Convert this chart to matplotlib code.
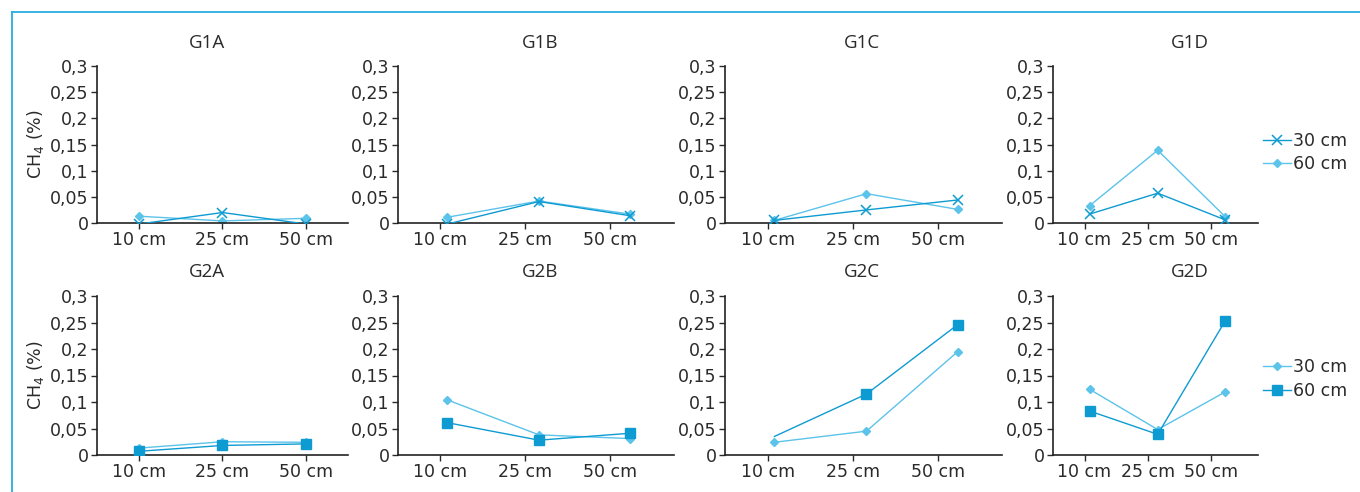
import matplotlib.pyplot as plt
import numpy as np

plt.rcParams['font.family'] = ['DejaVu Sans']

cats = ['10 cm', '25 cm', '50 cm']
dark = '#0e9bd2'
light = '#5cc3ea'
border = '#29abe2'

# top row: 30 cm (x, dark), 60 cm (diamond, light)
g1a_30 = [-0.002, 0.020, -0.002]
g1a_60 = [0.013, 0.004, 0.009]
g1b_30 = [-0.002, 0.041, 0.014]
g1b_60 = [0.011, 0.042, 0.017]
g1c_30 = [0.005, 0.025, 0.044]
g1c_60 = [0.005, 0.056, 0.026]
g1d_30 = [0.017, 0.057, 0.006]
g1d_60 = [0.033, 0.139, 0.012]

# bottom row: 30 cm (diamond, light), 60 cm (square, dark)
g2a_30 = [0.013, 0.025, 0.024]
g2a_60 = [0.007, 0.018, 0.021]
g2b_30 = [0.104, 0.038, 0.031]
g2b_60 = [0.061, 0.028, 0.041]
g2c_30 = [0.024, 0.045, 0.195]
g2c_60 = [0.035, 0.115, 0.246]
g2d_30 = [0.124, 0.048, 0.119]
g2d_60 = [0.083, 0.039, 0.253]

# category positions of the points (as drawn)
x_aligned = [0, 1, 2]
x_shifted = [0.08, 1.16, 2.23]

W, H = 1360, 492
fig = plt.figure(figsize=(W / 100, H / 100), dpi=100)

# frame lines
fig.add_artist(plt.Line2D([12 / W, 12 / W], [0, 1 - 12 / H], color=border, lw=1.3))
fig.add_artist(plt.Line2D([12 / W, 1], [1 - 12 / H, 1 - 12 / H], color=border, lw=1.3))

cols = [(97, 348), (398, 674), (725, 1002), (1053, 1258)]
rows = [(66, 223), (296, 455)]

top = [('G1A', g1a_30, g1a_60), ('G1B', g1b_30, g1b_60),
       ('G1C', g1c_30, g1c_60), ('G1D', g1d_30, g1d_60)]
bot = [('G2A', g2a_30, g2a_60), ('G2B', g2b_30, g2b_60),
       ('G2C', g2c_30, g2c_60), ('G2D', g2d_30, g2d_60)]
title_x = [207, 540, 862, 1190]
title_y = [43, 272]
legend_y = [0.449, 0.478]

yticks = [0, 0.05, 0.1, 0.15, 0.2, 0.25, 0.3]
ylabels = ['0', '0,05', '0,1', '0,15', '0,2', '0,25', '0,3']
fs = 12.5
tc = '#2a2a2a'

for r, panels in enumerate([top, bot]):
    y0, y1 = rows[r]
    for c, (name, s30, s60) in enumerate(panels):
        x0, x1 = cols[c]
        ax = fig.add_axes([x0 / W, 1 - y1 / H, (x1 - x0) / W, (y1 - y0) / H])
        xs = x_aligned if c == 0 else x_shifted
        if r == 0:
            ax.plot(xs, s60, color=light, lw=1.0, marker='D', ms=4.5, label='60 cm', zorder=2)
            ax.plot(xs, s30, color=dark, lw=1.0, marker='x', ms=7, mew=1.1, label='30 cm', zorder=3)
            order = [1, 0]
        else:
            ax.plot(xs, s30, color=light, lw=1.0, marker='D', ms=4.5, label='30 cm', zorder=2)
            ev = [1, 2] if name == 'G2C' else None
            ax.plot(xs, s60, color=dark, lw=1.0, marker='s', ms=7.5, markevery=ev, label='60 cm', zorder=3)
            order = [0, 1]
        ax.set_ylim(0, 0.3)
        ax.set_xlim(-0.5, 2.5 if c == 0 else 2.75)
        ax.set_yticks(yticks)
        ax.set_yticklabels(ylabels)
        ax.set_xticks([0, 1, 2])
        ax.set_xticklabels(cats)
        for s in ['top', 'right']:
            ax.spines[s].set_visible(False)
        for s in ['left', 'bottom']:
            ax.spines[s].set_color('#222222')
            ax.spines[s].set_linewidth(1.2)
        ax.tick_params(axis='both', labelsize=fs, colors=tc, length=4, width=1, pad=2)
        fig.text(title_x[c] / W, 1 - title_y[r] / H, name, ha='center', va='center',
                 fontsize=13.5, color=tc, family=['Open Sans', 'DejaVu Sans'])
        if c == 0:
            ax.set_ylabel('CH$_4$ (%)', fontsize=fs, color=tc, labelpad=3)
        if c == 3:
            h, l = ax.get_legend_handles_labels()
            ax.legend([h[i] for i in order], [l[i] for i in order], loc='center left',
                      bbox_to_anchor=((1263 - x0) / (x1 - x0), legend_y[r]), frameon=False,
                      fontsize=12.5, handlelength=1.6, handletextpad=0.12, labelspacing=0.3,
                      borderaxespad=0, borderpad=0, labelcolor=tc)

fig.savefig('out.png', dpi=100)
